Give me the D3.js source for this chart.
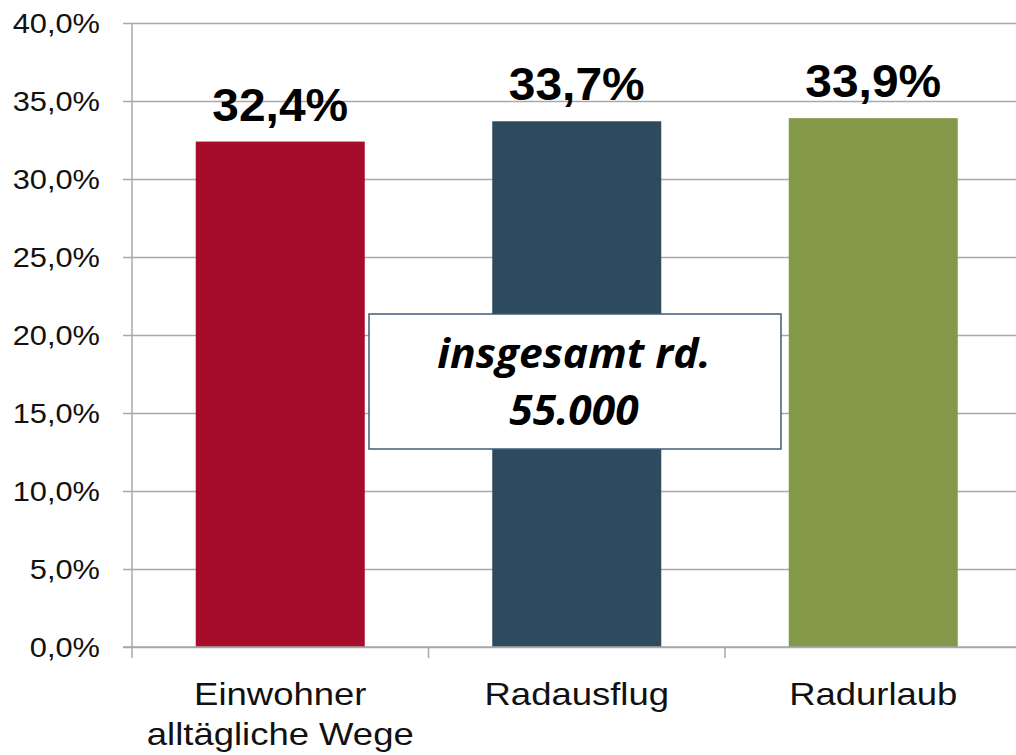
<!DOCTYPE html>
<html>
<head>
<meta charset="utf-8">
<script src="https://cdn.jsdelivr.net/npm/d3@7"></script>
<style>
  html, body { margin: 0; padding: 0; background: #fff; }
  svg { display: block; }
</style>
</head>
<body>
<svg id="chart" width="1016" height="755"></svg>
<script>
// Anteil der Radfahrten nach Zweck
const categories = [["Einwohner", "alltägliche Wege"], ["Radausflug"], ["Radurlaub"]];
const values = [32.4, 33.7, 33.9];
const valueLabels = ["32,4%", "33,7%", "33,9%"];
const barColors = ["#a50d2b", "#2d4a5f", "#839848"];
const yTicks = [0, 5, 10, 15, 20, 25, 30, 35, 40];
const yTickLabels = ["0,0%", "5,0%", "10,0%", "15,0%", "20,0%", "25,0%", "30,0%", "35,0%", "40,0%"];
const noteLines = ["insgesamt rd.", "55.000"];

const svg = d3.select("#chart");
const plotLeft = 132, plotRight = 1021.5, plotTop = 23, plotBottom = 647;
const sansFont = "'Liberation Sans', Arial, sans-serif";

const y = d3.scaleLinear().domain([0, 40]).range([plotBottom, plotTop]);
const x = d3.scaleBand().domain(d3.range(categories.length)).range([plotLeft, plotRight]).paddingInner(0.43).paddingOuter(0.215);

const gridColor = "#a9a9a9";

// horizontal gridlines with short ticks left of the axis
const yAxis = d3.axisLeft(y).tickValues(yTicks).tickFormat((d, i) => yTickLabels[i])
  .tickSize(-(plotRight - plotLeft)).tickSizeOuter(0).tickPadding(0);
const gy = svg.append("g").attr("transform", `translate(${plotLeft},0)`).call(yAxis);
gy.select(".domain").remove();
gy.selectAll(".tick line").attr("stroke", gridColor).attr("stroke-width", 1.5).attr("x1", -9);
gy.selectAll(".tick text")
  .attr("x", 0)
  .attr("dy", "0.35em")
  .attr("transform", "translate(-32,0) scale(1.1,1)")
  .attr("fill", "#111")
  .style("font-family", sansFont)
  .style("font-size", "28px");

// vertical axis line
svg.append("line").attr("x1", plotLeft).attr("x2", plotLeft).attr("y1", plotTop).attr("y2", plotBottom)
  .attr("stroke", gridColor).attr("stroke-width", 1.5);

// category separators below the baseline
const step = x.step();
const sepX = d3.range(categories.length).map(i => plotLeft + i * step);
svg.selectAll("line.sep").data(sepX).enter().append("line")
  .attr("class", "sep")
  .attr("x1", d => d).attr("x2", d => d)
  .attr("y1", plotBottom).attr("y2", plotBottom + 11)
  .attr("stroke", gridColor).attr("stroke-width", 1.5);

// bars
svg.selectAll("rect.bar").data(values).enter().append("rect")
  .attr("class", "bar")
  .attr("x", (d, i) => x(i))
  .attr("y", d => y(d))
  .attr("width", x.bandwidth())
  .attr("height", d => y(0) - y(d))
  .attr("fill", (d, i) => barColors[i]);

// baseline drawn over bars
svg.append("line").attr("x1", plotLeft - 9).attr("x2", plotRight).attr("y1", plotBottom).attr("y2", plotBottom)
  .attr("stroke", gridColor).attr("stroke-width", 1.5);

// value labels
svg.selectAll("text.val").data(values).enter().append("text")
  .attr("class", "val")
  .attr("transform", (d, i) => `translate(${x(i) + x.bandwidth() / 2},${y(d) - 21}) scale(1.02,1)`)
  .attr("text-anchor", "middle")
  .attr("fill", "#000")
  .style("font-family", sansFont)
  .style("font-weight", "bold")
  .style("font-size", "47px")
  .text((d, i) => valueLabels[i]);

// category labels, slightly widened
const catG = svg.selectAll("text.cat").data(categories).enter().append("text")
  .attr("class", "cat")
  .attr("transform", (d, i) => `translate(${x(i) + x.bandwidth() / 2},705) scale(1.14,1)`)
  .attr("text-anchor", "middle")
  .attr("fill", "#111")
  .style("font-family", sansFont)
  .style("font-size", "32px");
catG.selectAll("tspan").data(d => d).enter().append("tspan")
  .attr("x", 0)
  .attr("dy", (d, i) => i === 0 ? 0 : 40)
  .text(d => d);

// note box
const box = { x: 369, y: 314, w: 412, h: 135 };
svg.append("rect")
  .attr("x", box.x).attr("y", box.y).attr("width", box.w).attr("height", box.h)
  .attr("fill", "#fff").attr("stroke", "#3e5c7a").attr("stroke-width", 1.5);
svg.selectAll("text.note").data(noteLines).enter().append("text")
  .attr("class", "note")
  .attr("transform", (d, i) => `translate(${box.x + box.w / 2 - 1},${368 + i * 57}) scale(1.04,1)`)
  .attr("text-anchor", "middle")
  .attr("fill", "#000")
  .style("font-family", "'Open Sans', Lato, sans-serif")
  .style("font-weight", "bold")
  .style("font-style", "italic")
  .style("font-size", "41px")
  .text(d => d);
</script>
</body>
</html>
